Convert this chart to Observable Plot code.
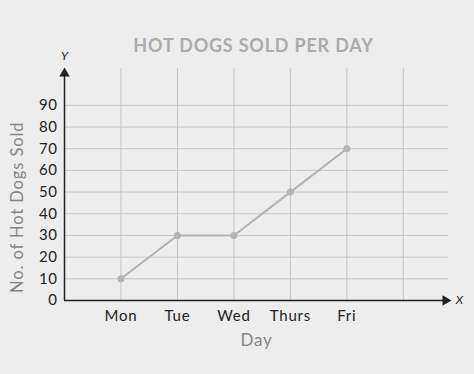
<!DOCTYPE html>
<html>
<head>
<meta charset="utf-8">
<script src="https://cdn.jsdelivr.net/npm/d3@7"></script>
<script src="https://cdn.jsdelivr.net/npm/@observablehq/plot@0.6"></script>
<style>
  html, body { margin: 0; padding: 0; background: #ededed; }
  #chart svg { display: block; }
  .t-title text { letter-spacing: 0.8px; }
  .t-ylab text { letter-spacing: 0.9px; }
  .t-xlab text { letter-spacing: 0.8px; }
  .t-yax text { letter-spacing: 0.6px; }
  .t-xax text { letter-spacing: 0.8px; }
</style>
</head>
<body>
<div id="chart"></div>
<script>
const days = ["Mon", "Tue", "Wed", "Thurs", "Fri"];
const sold = [10, 30, 30, 50, 70];
const yTicks = [0, 10, 20, 30, 40, 50, 60, 70, 80, 90];
const gridX = [0, 1, 2, 3, 4, 5];
const title = "HOT DOGS SOLD PER DAY";
const xLabel = "Day";
const yLabel = "No. of Hot Dogs Sold";

const data = days.map((d, i) => ({i, day: d, sold: sold[i]}));
const xMin = -1, xMax = 5.8, yMax = 107;
const font = "Lato, 'DejaVu Sans', sans-serif";

const plot = Plot.plot({
  width: 474,
  height: 374,
  marginLeft: 64,
  marginRight: 26,
  marginTop: 68,
  marginBottom: 74,
  style: {background: "#ededed", fontFamily: font, overflow: "visible"},
  x: {type: "linear", domain: [xMin, xMax], axis: null},
  y: {type: "linear", domain: [0, yMax], axis: null},
  marks: [
    Plot.ruleX(gridX, {x: d => d, y1: 0, y2: yMax, stroke: "#c6c6c6", strokeWidth: 1}),
    Plot.ruleY(yTicks.filter(d => d > 0), {y: d => d, x1: xMin, x2: xMax, stroke: "#c6c6c6", strokeWidth: 1}),
    Plot.line(data, {x: "i", y: "sold", stroke: "#b3b3b3", strokeWidth: 2}),
    Plot.dot(data, {x: "i", y: "sold", r: 3.5, fill: "#b3b3b3"}),
    Plot.ruleY([0], {x1: xMin, x2: xMax + 0.02, stroke: "#222", strokeWidth: 1.5}),
    Plot.ruleX([xMin], {y1: 0, y2: yMax - 1, stroke: "#222", strokeWidth: 1.5}),
    Plot.dot([{x: xMin, y: yMax}], {x: "x", y: "y", symbol: "triangle2", r: 5, fill: "#222", dy: 5}),
    Plot.dot([{x: xMax, y: 0}], {x: "x", y: "y", symbol: "triangle2", r: 5, fill: "#222", rotate: 90, dx: -3}),
    Plot.text(["Y"], {x: xMin, y: yMax, text: d => d, dy: -12, fontSize: 12, fontStyle: "italic", fill: "#222"}),
    Plot.text(["X"], {x: xMax, y: 0, text: d => d, dx: 11, fontSize: 12, fontStyle: "italic", fill: "#222"}),
    Plot.axisY(yTicks, {className: "t-yax", tickSize: 0, tickPadding: 7, fontSize: 15, fill: "#222", label: null, anchor: "left"}),
    Plot.axisX([0, 1, 2, 3, 4], {className: "t-xax", tickSize: 0, tickPadding: 10, fontSize: 15, fill: "#222", label: null, tickFormat: i => days[i], anchor: "bottom"}),
    Plot.text([xLabel], {className: "t-xlab", frameAnchor: "bottom", dy: 45, text: d => d, fontSize: 17, fill: "#858585"}),
    Plot.text([yLabel], {className: "t-ylab", x: xMin, y: 43, dx: -47, rotate: -90, textAnchor: "middle", text: d => d, fontSize: 16.5, fill: "#858585"}),
    Plot.text([title], {className: "t-title", frameAnchor: "top", dx: -3, dy: -29, text: d => d, fontSize: 18, fill: "#ababab", fontWeight: "bold"})
  ]
});
document.getElementById("chart").append(plot);
</script>
</body>
</html>
